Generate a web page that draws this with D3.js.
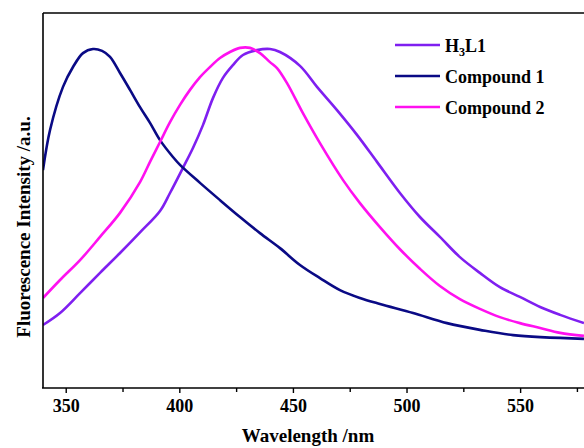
<!DOCTYPE html>
<html>
<head>
<meta charset="utf-8">
<script src="https://cdn.jsdelivr.net/npm/d3@7"></script>
<style>
  html, body { margin: 0; padding: 0; background: #fff; }
  svg { display: block; }
  text { font-family: "Liberation Serif", "Times New Roman", serif; font-weight: bold; fill: #000; }
</style>
</head>
<body>
<svg id="chart" width="584" height="448"></svg>
<script>
// ---- data (wavelength nm, intensity a.u.) ----
const seriesNames = ["H3L1", "Compound 1", "Compound 2"];
const seriesColors = ["#7f1ff0", "#0a0a85", "#ff10f0"];

const h3l1 = [
  [340,16.8],[347.5,20.0],[356.3,25.3],[365.1,30.7],[373.9,36.0],[382.7,41.5],[391.5,47.2],
  [395.9,52.0],[401.6,58.7],[406.0,64.0],[410.4,70.1],[414.8,77.3],[419.2,82.7],[423.6,86.1],
  [428.0,88.8],[434.2,90.1],[439.9,90.4],[444.3,89.6],
  [453.1,85.9],[460.6,80.3],[469.4,74.1],[478.2,67.5],[487.0,60.3],[497.1,52.0],
  [505.9,45.6],[514.7,40.3],[523.5,34.9],[532.3,30.7],[541.1,26.9],[549.9,24.3],[558.8,21.6],
  [567.6,19.5],[578.1,17.3]
];
const compound1 = [
  [340,58.1],[343.1,68.8],[348.8,80.3],[353.2,85.6],[357.6,89.3],[362.0,90.4],[366.0,89.9],
  [369.5,88.3],[373.9,84.0],[378.3,79.5],[382.7,74.9],[387.1,70.7],[391.5,66.1],[397.2,61.6],
  [400.3,59.5],[409.1,54.7],[417.9,50.1],[426.7,45.6],[435.5,41.3],[444.3,37.3],[453.1,32.8],
  [461.9,29.3],[470.7,26.1],[479.5,24.0],[488.3,22.4],[502.9,20.0],[517.8,17.3],[532.3,15.5],
  [546.9,14.1],[578.1,13.1]
];
const compound2 = [
  [340,24.0],[347.5,28.8],[356.3,34.1],[365.1,40.3],[373.9,46.7],[382.7,54.9],[387.1,60.3],
  [391.5,65.6],[395.9,70.9],[400.3,75.5],[404.7,79.5],[409.1,82.9],[413.5,85.6],[417.9,88.0],
  [422.3,89.6],[426.7,90.7],[431.1,90.7],[435.5,89.3],[439.9,86.9],[443.0,85.3],
  [447.4,81.3],[454.4,73.3],[461.9,65.3],[472.0,55.5],[479.5,49.3],[488.3,42.9],
  [497.1,37.0],[505.9,31.8],[514.7,27.2],[523.5,23.7],[532.3,21.1],[541.1,18.9],[549.9,17.3],
  [558.8,16.0],[567.6,14.7],[578.1,13.9]
];
const xMajorTicks = [350, 400, 450, 500, 550];
const xMinorTicks = [375, 425, 475, 525, 575];
const xDomain = [340, 580];
const yDomain = [0, 100];

// ---- drawing ----
const svg = d3.select("#chart");
const mLeft = 43, mTop = 13, mBottom = 388;
const x = d3.scaleLinear().domain(xDomain).range([mLeft, mLeft + 240 * 2.272]);
const y = d3.scaleLinear().domain(yDomain).range([mBottom, mTop]);

const data = [h3l1, compound1, compound2];
const line = d3.line().x(d => x(d[0])).y(d => y(d[1])).curve(d3.curveCatmullRom.alpha(0.5));

svg.append("clipPath").attr("id", "clip")
  .append("rect").attr("x", mLeft).attr("y", mTop).attr("width", 600).attr("height", mBottom - mTop);

const g = svg.append("g").attr("clip-path", "url(#clip)");
data.forEach((s, i) => {
  g.append("path").datum(s)
    .attr("fill", "none")
    .attr("stroke", seriesColors[i])
    .attr("stroke-width", 2.6)
    .attr("stroke-linejoin", "round")
    .attr("d", line);
});

// frame: left, top, bottom (right side is out of view)
const xEnd = x(xDomain[1]);
svg.append("line").attr("x1", mLeft).attr("x2", xEnd).attr("y1", mTop).attr("y2", mTop)
  .attr("stroke", "#000").attr("stroke-width", 1.6);
svg.append("line").attr("x1", mLeft).attr("x2", mLeft).attr("y1", mTop).attr("y2", mBottom)
  .attr("stroke", "#000").attr("stroke-width", 1.6);

// bottom axis
const xAxis = d3.axisBottom(x).tickValues(xMajorTicks).tickSize(5).tickPadding(6).tickFormat(d3.format("d"));
const axG = svg.append("g").attr("transform", `translate(0,${mBottom})`).call(xAxis);
axG.select(".domain").remove();
axG.append("line").attr("x1", mLeft - 1).attr("x2", xEnd).attr("y1", 0).attr("y2", 0)
  .attr("stroke", "#000").attr("stroke-width", 1.6);
axG.selectAll(".tick line").attr("stroke", "#000").attr("stroke-width", 1.4);
axG.selectAll(".tick text").attr("font-size", 18).attr("font-family", "Liberation Serif")
  .attr("font-weight", "bold").attr("fill", "#000").attr("dy", "0.72em");
const minorAxis = d3.axisBottom(x).tickValues(xMinorTicks).tickSize(4).tickFormat("");
const mG = svg.append("g").attr("transform", `translate(0,${mBottom})`).call(minorAxis);
mG.select(".domain").remove();
mG.selectAll(".tick line").attr("stroke", "#000").attr("stroke-width", 1.4);

// axis titles
svg.append("text").attr("x", 308).attr("y", 442).attr("text-anchor", "middle")
  .attr("font-size", 19).text("Wavelength /nm");
svg.append("text").attr("transform", "translate(30,227) rotate(-90)").attr("text-anchor", "middle")
  .attr("font-size", 19).text("Fluorescence Intensity /a.u.");

// legend
const legY = [45, 76, 107];
seriesNames.forEach((n, i) => {
  svg.append("line").attr("x1", 395).attr("x2", 440).attr("y1", legY[i]).attr("y2", legY[i])
    .attr("stroke", seriesColors[i]).attr("stroke-width", 2.6);
  const t = svg.append("text").attr("x", 445).attr("y", legY[i] + 7).attr("font-size", 18);
  if (n === "H3L1") {
    t.append("tspan").text("H");
    t.append("tspan").attr("font-size", 12).attr("dy", 4).text("3");
    t.append("tspan").attr("dy", -4).text("L1");
  } else {
    t.text(n);
  }
});
</script>
</body>
</html>
